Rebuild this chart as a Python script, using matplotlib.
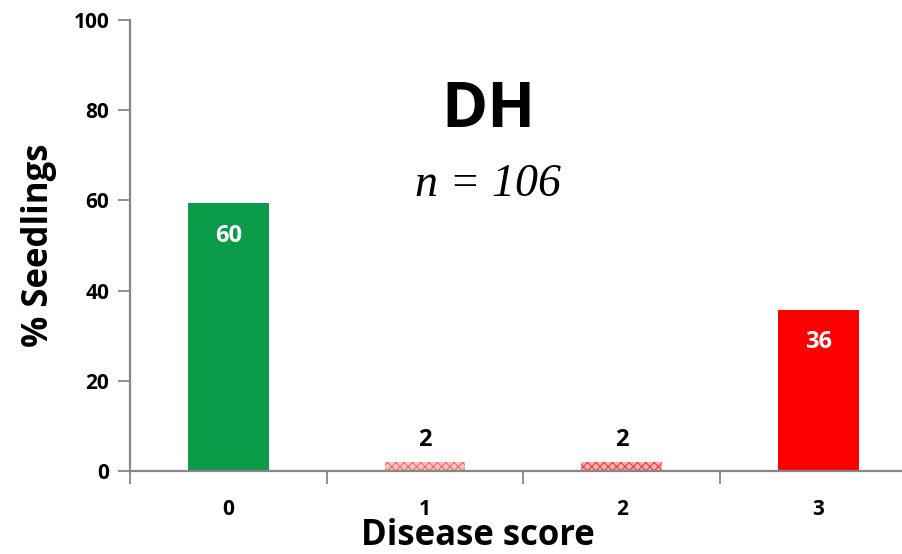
import matplotlib.pyplot as plt
from matplotlib import rcParams

rcParams['font.family'] = ['Open Sans', 'DejaVu Sans']
rcParams['hatch.linewidth'] = 0.8

# data
scores = ['0', '1', '2', '3']
pct = [59.4, 1.9, 1.9, 35.8]
bar_labels = ['60', '2', '2', '36']
yticks = [0, 20, 40, 60, 80, 100]

colors = ['#0A9A48', '#FBC4C4', '#F9B0B0', '#FF0000']
hatches = [None, 'xxxx', 'xxxx', None]
hatch_cols = [None, '#F46A6A', '#F23A3A', None]
label_cols = ['white', 'black', 'black', 'white']

W, H = 903, 554
fig = plt.figure(figsize=(W / 100, H / 100), dpi=100)
ax = fig.add_axes([130 / W, 1 - 471 / H, (W - 130) / W, 451 / H])

x = range(len(scores))
for i in x:
    ax.bar(i, pct[i], width=0.41, color=colors[i], zorder=2,
           edgecolor=hatch_cols[i] if hatches[i] else colors[i],
           hatch=hatches[i], lw=0)
    if label_cols[i] == 'white':
        ax.text(i, pct[i] - 7.3, bar_labels[i], ha='center', va='center',
                color='white', fontsize=17, fontweight='bold')
    else:
        ax.text(i, pct[i] + 4.9, bar_labels[i], ha='center', va='center',
                color='black', fontsize=17, fontweight='bold')

ax.set_xlim(-0.5, -0.5 + (W - 130) / 196.7)
ax.set_ylim(0, 100)
ax.set_yticks(yticks)
ax.set_yticklabels([str(v) for v in yticks], fontsize=15, fontweight='bold')

# category boundaries as major ticks, labels on minor ticks
ax.set_xticks([-0.5, 0.5, 1.5, 2.5])
ax.set_xticklabels([])
ax.set_xticks(list(x), minor=True)
ax.set_xticklabels(scores, minor=True, fontsize=15, fontweight='bold')
ax.tick_params(axis='x', which='minor', length=0, pad=20)
ax.tick_params(axis='both', which='major', length=9, width=1.3, color='#868686')
ax.tick_params(axis='y', pad=6)

for s in ['top', 'right']:
    ax.spines[s].set_visible(False)
for s in ['left', 'bottom']:
    ax.spines[s].set_color('#868686')
    ax.spines[s].set_linewidth(1.6)

ax.set_ylabel('% Seedlings', fontsize=25, fontweight='bold', labelpad=12)
fig.text(478 / W, 1 - 536 / H, 'Disease score', ha='center', va='center',
         fontsize=25, fontweight='bold')

ax.text(1.32, 80, 'DH', ha='center', va='center', fontsize=45, fontweight='bold')
ax.text(1.32, 63.4, 'n = 106', ha='center', va='center', fontsize=33,
        family='Liberation Serif', style='italic')

fig.savefig('out.png', dpi=100)
